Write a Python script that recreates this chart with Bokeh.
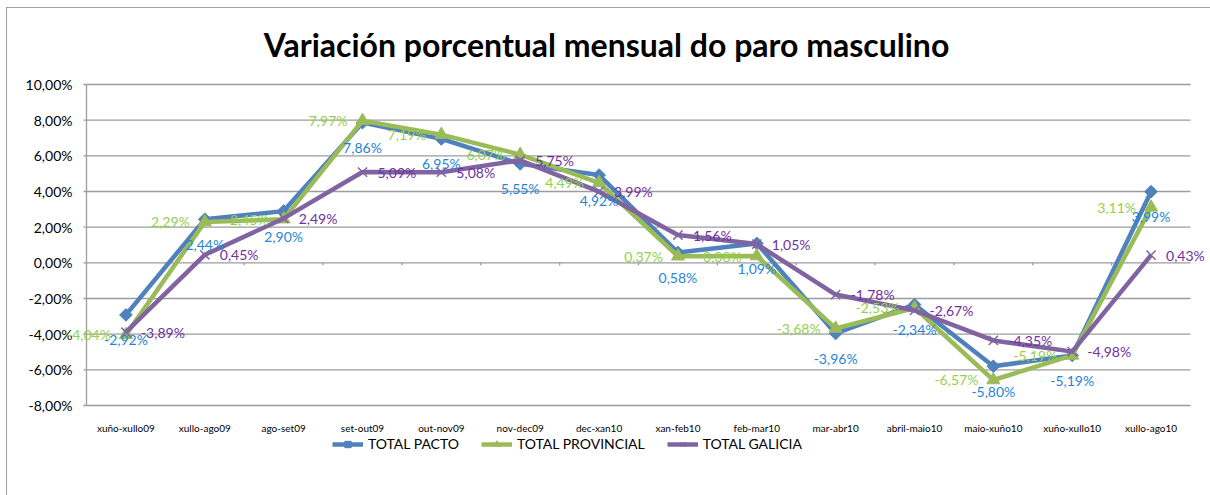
from bokeh.plotting import figure
from bokeh.models import (Range1d, LabelSet, ColumnDataSource,
                          Legend, LegendItem, Label)
from bokeh.embed import file_html
from bokeh.resources import INLINE
from bokeh.core.properties import value
import numpy as np

# ---------------- data ----------------
categories = ["xuño-xullo09", "xullo-ago09", "ago-set09", "set-out09", "out-nov09",
              "nov-dec09", "dec-xan10", "xan-feb10", "feb-mar10", "mar-abr10",
              "abril-maio10", "maio-xuño10", "xuño-xullo10", "xullo-ago10"]
total_pacto = [-2.92, 2.44, 2.90, 7.86, 6.95, 5.55, 4.92, 0.58, 1.09, -3.96, -2.34, -5.80, -5.19, 3.99]
total_provincial = [-4.04, 2.29, 2.45, 7.97, 7.19, 6.07, 4.49, 0.37, 0.38, -3.68, -2.53, -6.57, -5.19, 3.11]
total_galicia = [-3.89, 0.45, 2.49, 5.09, 5.08, 5.75, 3.99, 1.56, 1.05, -1.78, -2.67, -4.35, -4.98, 0.43]
series_names = ["TOTAL PACTO", "TOTAL PROVINCIAL", "TOTAL GALICIA"]
y_ticks = [-8, -6, -4, -2, 0, 2, 4, 6, 8, 10]
y_tick_labels = ["-8,00%", "-6,00%", "-4,00%", "-2,00%", "0,00%", "2,00%", "4,00%", "6,00%", "8,00%", "10,00%"]
title_text = "Variación porcentual mensual do paro masculino"

FONT = "Lato"
W, H = 1210, 495
PLOT_L, PLOT_R, PLOT_T, PLOT_B = 86, 1190, 84, 405   # plot area in pixels
GRID = "#9c9c9c"

def fmt(v):
    return ("%.2f" % v).replace(".", ",") + "%"

n = len(categories)
xs = list(range(n))
ymin, ymax = y_ticks[0], y_ticks[-1]
px_x = (PLOT_R - PLOT_L) / n                 # pixels per category
px_y = (PLOT_B - PLOT_T) / (ymax - ymin)     # pixels per unit
x0 = -0.5 - PLOT_L / px_x
x1 = -0.5 + (W - PLOT_L) / px_x
ytop = ymax + PLOT_T / px_y
ybot = ymin - (H - PLOT_B) / px_y

p = figure(width=W, height=H, output_backend="svg", toolbar_location=None,
           x_range=Range1d(x0, x1), y_range=Range1d(ybot, ytop),
           min_border_left=0, min_border_right=0, min_border_top=0,
           min_border_bottom=0)
p.outline_line_color = None
p.background_fill_alpha = 0
p.border_fill_alpha = 0
p.styles = {"background": "linear-gradient(#a0a0a0,#a0a0a0) 6px 7px / 1px 100% no-repeat, "
                          "linear-gradient(#a0a0a0,#a0a0a0) 6px 7px / 100% 1px no-repeat, white"}

p.xgrid.visible = False
p.ygrid.visible = False
p.yaxis.visible = False
p.xaxis.visible = False

# horizontal gridlines and y axis drawn in data space
p.segment(x0=[-0.5] * len(y_ticks), y0=y_ticks, x1=[n - 0.5] * len(y_ticks), y1=y_ticks,
          line_color=GRID, line_width=1.3)
p.segment(x0=[-0.5], y0=[ymin], x1=[-0.5], y1=[ymax], line_color=GRID, line_width=1.3)
p.segment(x0=[-0.5 - 3 / px_x] * len(y_ticks), y0=y_ticks, x1=[-0.5] * len(y_ticks), y1=y_ticks,
          line_color=GRID, line_width=1.3)
p.text(x=[-0.5 - 14 / px_x] * len(y_ticks), y=y_ticks, text=y_tick_labels,
       text_font=value(FONT), text_font_size="14px", text_color="#000000",
       text_align="right", text_baseline="middle")

# category labels below the plot area
p.text(x=xs, y=[ymin - 22 / px_y] * n, text=categories,
       text_font=value(FONT), text_font_size="10px", text_color="#000000",
       text_align="center", text_baseline="middle")

# small boundary ticks on the zero line
bx = [i + 0.5 for i in range(n - 1)]
p.segment(x0=bx, y0=[0] * len(bx), x1=bx, y1=[-2.5 / px_y] * len(bx),
          line_color=GRID, line_width=1.3)

line_colors = ["#4F81BD", "#9BBB59", "#8064A2"]
label_colors = ["#1F86D6", "#92D050", "#7030A0"]
series = [total_pacto, total_provincial, total_galicia]

items = []
sources = []
for k, (vals, col) in enumerate(zip(series, line_colors)):
    src = ColumnDataSource(dict(x=xs, y=vals, t=[fmt(v) for v in vals]))
    ln = p.line("x", "y", source=src, line_color=col, line_width=4.5, line_join="round")
    if k == 0:
        mk = p.scatter("x", "y", source=src, marker="square", angle=np.pi / 4, size=9,
                       fill_color=col, line_color=col)
    elif k == 1:
        mk = p.scatter("x", "y", source=src, marker="triangle", size=13,
                       fill_color=col, line_color=col)
    else:
        mk = p.scatter("x", "y", source=src, marker="x", size=13,
                       line_color=col, line_width=1.5)
    items.append(LegendItem(label=series_names[k], renderers=[ln, mk]))
    sources.append(src)

# data labels
lab_specs = [
    dict(x_offset=0, y_offset=-25, text_align="center"),
    dict(x_offset=-15, y_offset=0, text_align="right"),
    dict(x_offset=15, y_offset=0, text_align="left"),
]
for src, spec, lc in zip(sources, lab_specs, label_colors):
    ls = LabelSet(x="x", y="y", text="t", source=src, text_color=lc,
                  text_font=value(FONT), text_font_size="14px",
                  text_baseline="middle", **spec)
    p.add_layout(ls)

# title
title = Label(x=x0 + 606 / px_x, y=ytop - 44 / px_y, text=title_text, text_font=FONT,
              text_font_size="32px", text_font_style="bold", text_color="#000000",
              text_align="center", text_baseline="middle")
p.add_layout(title)

legend = Legend(items=items, orientation="horizontal", location=(332, 43),
                label_text_font=FONT, label_text_font_size="14px",
                label_text_color="#000000", glyph_width=31, glyph_height=16,
                label_standoff=5, spacing=22, padding=0, margin=0,
                border_line_color=None, background_fill_alpha=0)
p.add_layout(legend, "center")

open("out.html", "w").write(file_html(p, INLINE))
